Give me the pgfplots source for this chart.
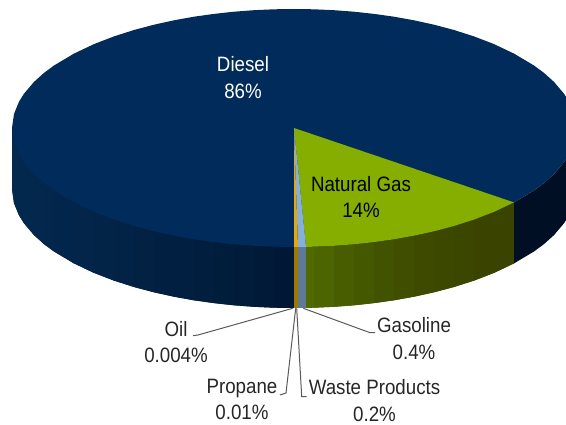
\documentclass[border=0pt]{standalone}
\usepackage{pgfplots}
\pgfplotsset{compat=1.18}
\usepackage{fontspec}
\setmainfont{Liberation Sans}
\definecolor{dieselTop}{HTML}{002B5A}
\definecolor{dieselL}{HTML}{03294F}
\definecolor{dieselR}{HTML}{001835}
\definecolor{dieselDark}{HTML}{000F24}
\definecolor{gasTop}{HTML}{85AE00}
\definecolor{gasL}{HTML}{4F6B00}
\definecolor{gasR}{HTML}{3A4400}
\definecolor{goldTop}{HTML}{E3A80C}
\definecolor{goldSide}{HTML}{A07A00}
\definecolor{blueTop}{HTML}{85B0DC}
\definecolor{blueSide}{HTML}{5F7A98}
\definecolor{leader}{HTML}{595959}
\begin{document}
\begin{tikzpicture}[b/.style={fill=#1,draw=none},
  lab/.style={align=center,inner sep=0pt,font=\fontsize{20.8}{26.5}\selectfont,text=#1,xscale=.9,transform shape}]
\path[use as bounding box] (0,0) rectangle (566pt,425pt);
\begin{axis}[
  scale only axis, width=566pt, height=425pt,
  xmin=0, xmax=566, ymin=0, ymax=425, y dir=reverse,
  axis lines=none, clip=true,
]
% backing for the side wall, keeps the band joins from showing
\addplot[fill=dieselL!50!dieselR,draw=none] coordinates {(12,128)(294,128)(294,308)(274,307.7)(254,306.8)(234,305.3)(214,303.1)(194,300.3)(174,296.7)(154,292.3)(134,287)(114,280.6)(94,272.9)(74,263.4)(54,251.5)(44,244.1)(34,235.1)(24,223.3)(19,215.3)(14,203.1)(12,189)} --cycle;
\addplot[fill=gasL!30!gasR,draw=none] coordinates {(306,240)(514,200)(514,263.4)(494,272.9)(474,280.6)(454,287)(434,292.3)(414,296.7)(394,300.3)(374,303.1)(354,305.3)(334,306.8)(314,307.7)(306,307.9)} --cycle;
% side wall, diesel, left to right
\addplot[b=dieselL] coordinates {(12,128)(14,142.1)(14,203.1)(12,189)} --cycle;
\addplot[b=dieselL!98!dieselR] coordinates {(14,142.1)(19,154.3)(19,215.3)(14,203.1)} --cycle;
\addplot[b=dieselL!96!dieselR] coordinates {(19,154.3)(24,162.3)(24,223.3)(19,215.3)} --cycle;
\addplot[b=dieselL!94!dieselR] coordinates {(24,162.3)(34,174.1)(34,235.1)(24,223.3)} --cycle;
\addplot[b=dieselL!91!dieselR] coordinates {(34,174.1)(44,183.1)(44,244.1)(34,235.1)} --cycle;
\addplot[b=dieselL!88!dieselR] coordinates {(44,183.1)(54,190.5)(54,251.5)(44,244.1)} --cycle;
\addplot[b=dieselL!83!dieselR] coordinates {(54,190.5)(74,202.4)(74,263.4)(54,251.5)} --cycle;
\addplot[b=dieselL!76!dieselR] coordinates {(74,202.4)(94,211.9)(94,272.9)(74,263.4)} --cycle;
\addplot[b=dieselL!69!dieselR] coordinates {(94,211.9)(114,219.6)(114,280.6)(94,272.9)} --cycle;
\addplot[b=dieselL!62!dieselR] coordinates {(114,219.6)(134,226)(134,287)(114,280.6)} --cycle;
\addplot[b=dieselL!55!dieselR] coordinates {(134,226)(154,231.3)(154,292.3)(134,287)} --cycle;
\addplot[b=dieselL!48!dieselR] coordinates {(154,231.3)(174,235.7)(174,296.7)(154,292.3)} --cycle;
\addplot[b=dieselL!41!dieselR] coordinates {(174,235.7)(194,239.3)(194,300.3)(174,296.7)} --cycle;
\addplot[b=dieselL!34!dieselR] coordinates {(194,239.3)(214,242.1)(214,303.1)(194,300.3)} --cycle;
\addplot[b=dieselL!27!dieselR] coordinates {(214,242.1)(234,244.3)(234,305.3)(214,303.1)} --cycle;
\addplot[b=dieselL!20!dieselR] coordinates {(234,244.3)(254,245.8)(254,306.8)(234,305.3)} --cycle;
\addplot[b=dieselL!10!dieselR] coordinates {(254,245.8)(274,246.7)(274,307.7)(254,306.8)} --cycle;
\addplot[b=dieselR] coordinates {(274,246.7)(294,247)(294,308)(274,307.7)} --cycle;
% side wall, small slices
\addplot[b=goldSide] coordinates {(294,247)(298,247)(298,308)(294,308)} --cycle;
\addplot[b=blueSide] coordinates {(298,247)(306,246.9)(306,307.9)(298,308)} --cycle;
% side wall, natural gas
\addplot[b=gasL] coordinates {(306,246.9)(314,246.7)(314,307.7)(306,307.9)} --cycle;
\addplot[b=gasL!85!gasR] coordinates {(314,246.7)(334,245.8)(334,306.8)(314,307.7)} --cycle;
\addplot[b=gasL!65!gasR] coordinates {(334,245.8)(354,244.3)(354,305.3)(334,306.8)} --cycle;
\addplot[b=gasL!50!gasR] coordinates {(354,244.3)(374,242.1)(374,303.1)(354,305.3)} --cycle;
\addplot[b=gasL!35!gasR] coordinates {(374,242.1)(394,239.3)(394,300.3)(374,303.1)} --cycle;
\addplot[b=gasL!25!gasR] coordinates {(394,239.3)(414,235.7)(414,296.7)(394,300.3)} --cycle;
\addplot[b=gasL!15!gasR] coordinates {(414,235.7)(434,231.3)(434,292.3)(414,296.7)} --cycle;
\addplot[b=gasL!10!gasR] coordinates {(434,231.3)(454,226)(454,287)(434,292.3)} --cycle;
\addplot[b=gasL!5!gasR] coordinates {(454,226)(474,219.6)(474,280.6)(454,287)} --cycle;
\addplot[b=gasR] coordinates {(474,219.6)(494,211.9)(494,272.9)(474,280.6)} --cycle;
\addplot[b=gasR] coordinates {(494,211.9)(514,202.4)(514,263.4)(494,272.9)} --cycle;
% side wall, diesel, right of the gas slice
\addplot[b=dieselDark] coordinates {(514,202.4)(534,190.5)(544,183.1)(554,174.1)(564,162.3)(569,154.3)(574,142.1)(576,128)(576,189)(574,203.1)(569,215.3)(564,223.3)(554,235.1)(544,244.1)(534,251.5)(514,263.4)} --cycle;
% top face
\addplot[b=dieselTop] coordinates {
  (12,128)(14,113.9)(19,101.7)(24,93.7)(34,81.9)(44,72.9)(54,65.5)(74,53.6)(94,44.1)(114,36.4)
  (134,30)(154,24.7)(174,20.3)(194,16.7)(214,13.9)(234,11.7)(254,10.2)(274,9.3)(294,9)
  (314,9.3)(334,10.2)(354,11.7)(374,13.9)(394,16.7)(414,20.3)(434,24.7)(454,30)(474,36.4)
  (494,44.1)(514,53.6)(534,65.5)(544,72.9)(554,81.9)(564,93.7)(569,101.7)(574,113.9)(576,128)
  (574,142.1)(569,154.3)(564,162.3)(554,174.1)(544,183.1)(534,190.5)(514,202.4)(494,211.9)
  (474,219.6)(454,226)(434,231.3)(414,235.7)(394,239.3)(374,242.1)(354,244.3)(334,245.8)
  (314,246.7)(294,247)(274,246.7)(254,245.8)(234,244.3)(214,242.1)(194,239.3)(174,235.7)
  (154,231.3)(134,226)(114,219.6)(94,211.9)(74,202.4)(54,190.5)(44,183.1)(34,174.1)(24,162.3)
  (19,154.3)(14,142.1)} --cycle;
\addplot[fill=gasTop,draw=none] coordinates {(294,128)(514,202.4)(494,211.9)(474,219.6)(454,226)(434,231.3)(414,235.7)(394,239.3)(374,242.1)(354,244.3)(334,245.8)(314,246.7)(306,246.9)} --cycle;
\addplot[fill=blueTop,draw=none] coordinates {(294,128)(306,246.9)(298,247)} --cycle;
\addplot[fill=goldTop,draw=none] coordinates {(294,128)(298,247)(294,247)} --cycle;
% leader lines
\addplot[leader,line width=1pt] coordinates {(292.7,308.3)(198,335)(193,335.7)};
\addplot[leader,line width=1pt] coordinates {(295.7,308.3)(286,393)(280,395)};
\addplot[leader,line width=1pt] coordinates {(296.7,308.3)(301.7,396.7)(306.7,396.7)};
\addplot[leader,line width=1pt] coordinates {(303.3,308.3)(370,332.7)(375,332.7)};
% labels
\node[lab=white] at (axis cs:243,77.5) {Diesel\\86\%};
\node[lab=black] at (axis cs:361,197) {Natural Gas\\14\%};
\node[lab=black!85] at (axis cs:176,342) {Oil\\0.004\%};
\node[lab=black!85] at (axis cs:242,399.5) {Propane\\0.01\%};
\node[lab=black!85] at (axis cs:374.5,400.5) {Waste Products\\0.2\%};
\node[lab=black!85] at (axis cs:414,338.5) {Gasoline\\0.4\%};
\end{axis}
\end{tikzpicture}
\end{document}
